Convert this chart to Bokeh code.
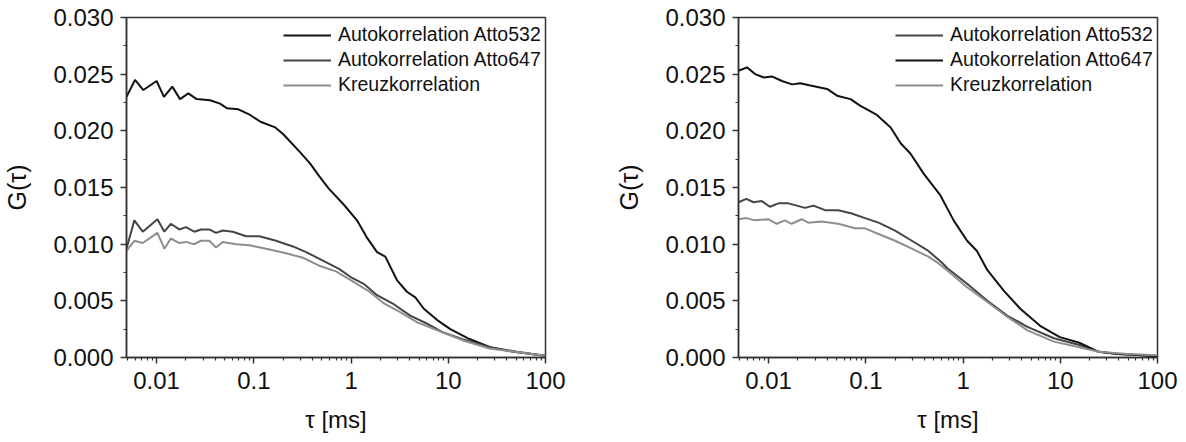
from bokeh.plotting import figure
from bokeh.layouts import row
from bokeh.models import Range1d, FixedTicker, Legend, LegendItem, PrintfTickFormatter
from bokeh.embed import file_html
from bokeh.resources import INLINE

# ---------------- data ----------------
x_ticks = [0.01, 0.1, 1, 10, 100]
x_tick_labels = ["0.01", "0.1", "1", "10", "100"]
y_ticks = [0.0, 0.005, 0.010, 0.015, 0.020, 0.025, 0.030]
y_tick_labels = ["0.000", "0.005", "0.010", "0.015", "0.020", "0.025", "0.030"]
series_names = ["Autokorrelation Atto532", "Autokorrelation Atto647", "Kreuzkorrelation"]

# left panel
L_tau_532 = [0.0049, 0.006, 0.0073, 0.01, 0.0119, 0.0145, 0.0174, 0.0212, 0.0258, 0.0355, 0.0449,
             0.0527, 0.0694, 0.0916, 0.117, 0.166, 0.201, 0.30, 0.38, 0.47, 0.59, 0.84, 1.15, 1.45,
             1.85, 2.25, 2.98, 3.75, 4.58, 5.6, 7.7, 10.5, 15.8, 27, 47, 90, 100]
L_G_532 = [0.0230, 0.0245, 0.0236, 0.0244, 0.0230, 0.0239, 0.0228, 0.0233, 0.0228, 0.0227, 0.0224,
           0.0220, 0.0219, 0.0214, 0.0208, 0.0203, 0.0197, 0.0181, 0.0171, 0.0160, 0.0149, 0.0135,
           0.0121, 0.0106, 0.0093, 0.0089, 0.0068, 0.0058, 0.0053, 0.0043, 0.0033, 0.0025, 0.0017,
           0.0009, 0.0005, 0.0002, 0.0002]

L_tau_647 = [0.0049, 0.0059, 0.0072, 0.0102, 0.0120, 0.0140, 0.0171, 0.0200, 0.0244, 0.0286, 0.0348,
             0.0408, 0.0479, 0.0607, 0.0834, 0.114, 0.169, 0.252, 0.345, 0.557, 0.76, 0.99, 1.35,
             1.85, 2.75, 4.06, 6.0, 8.9, 14.3, 26.5, 51, 90, 100]
L_G_647 = [0.0096, 0.0121, 0.0111, 0.0122, 0.0111, 0.0118, 0.0113, 0.0115, 0.0111, 0.0113, 0.0113,
           0.0110, 0.0112, 0.0111, 0.0107, 0.0107, 0.0103, 0.0098, 0.0093, 0.0084, 0.0078, 0.0071,
           0.0065, 0.0055, 0.0047, 0.0037, 0.0030, 0.0022, 0.0016, 0.0009, 0.0005, 0.0002, 0.0002]

L_tau_x = [0.0049, 0.0059, 0.0072, 0.0102, 0.0120, 0.0140, 0.0171, 0.0200, 0.0244, 0.0286, 0.0348,
           0.0408, 0.0479, 0.0657, 0.090, 0.134, 0.215, 0.32, 0.47, 0.70, 1.05, 1.55, 2.15, 3.2,
           4.8, 7.7, 14.3, 26.5, 90, 100]
L_G_x = [0.0094, 0.0103, 0.0101, 0.0110, 0.0096, 0.0105, 0.0101, 0.0102, 0.0100, 0.0103, 0.0103,
         0.0097, 0.0102, 0.0100, 0.0099, 0.0096, 0.0092, 0.0088, 0.0081, 0.0076, 0.0067, 0.0058,
         0.0048, 0.0040, 0.0031, 0.0024, 0.0015, 0.0008, 0.0002, 0.0002]

# right panel
R_tau_532 = [0.0049, 0.0059, 0.0070, 0.0085, 0.0103, 0.0126, 0.0160, 0.0237, 0.0289, 0.038, 0.052,
             0.0716, 0.098, 0.135, 0.20, 0.297, 0.44, 0.60, 0.685, 1.10, 1.78, 2.84, 4.6, 8.6, 15.7,
             24.8, 39.3, 100]
R_G_532 = [0.0137, 0.0140, 0.0137, 0.0138, 0.0133, 0.0136, 0.0136, 0.0132, 0.0134, 0.0130, 0.0130,
           0.0127, 0.0123, 0.0119, 0.0112, 0.0103, 0.0094, 0.0084, 0.0079, 0.0065, 0.0050, 0.0037,
           0.0027, 0.0017, 0.0011, 0.0005, 0.0003, 0.0001]

R_tau_647 = [0.0049, 0.006, 0.0073, 0.0089, 0.0108, 0.0137, 0.0174, 0.0212, 0.0269, 0.0399, 0.0506,
             0.0695, 0.088, 0.13, 0.18, 0.228, 0.287, 0.395, 0.585, 0.80, 1.10, 1.39, 1.78, 2.62,
             3.88, 6.2, 9.9, 15.7, 24.8, 39.3, 72, 100]
R_G_647 = [0.0253, 0.0256, 0.0250, 0.0247, 0.0248, 0.0244, 0.0241, 0.0242, 0.0240, 0.0237, 0.0231,
           0.0228, 0.0222, 0.0214, 0.0203, 0.0189, 0.0180, 0.0162, 0.0143, 0.0121, 0.0103, 0.0094,
           0.0077, 0.0059, 0.0043, 0.0028, 0.0018, 0.0013, 0.0005, 0.0003, 0.0002, 0.0001]

R_tau_x = [0.0049, 0.0059, 0.0072, 0.0099, 0.0121, 0.0147, 0.0172, 0.0219, 0.0256, 0.035, 0.052,
           0.0774, 0.098, 0.135, 0.20, 0.297, 0.44, 0.56, 0.685, 1.10, 1.78, 2.84, 4.6, 8.6, 15.7,
           24.8, 49, 100]
R_G_x = [0.0122, 0.0123, 0.0121, 0.0122, 0.0118, 0.0121, 0.0118, 0.0122, 0.0119, 0.0120, 0.0118,
         0.0114, 0.0114, 0.0109, 0.0103, 0.0096, 0.0089, 0.0083, 0.0077, 0.0062, 0.0049, 0.0036,
         0.0024, 0.0014, 0.0009, 0.0005, 0.0003, 0.0002]

FONT = "Liberation Sans"
BLACK = "#111111"
DARK = "#454545"
LIGHT = "#8e8e8e"


def make_fig(width, border_left, border_right, curves):
    p = figure(width=width, height=442, x_axis_type="log",
               x_range=Range1d(0.0049, 100), y_range=Range1d(0, 0.030),
               output_backend="svg", toolbar_location=None,
               min_border_left=border_left, min_border_right=border_right,
               min_border_top=17, min_border_bottom=85)
    p.grid.visible = False
    p.background_fill_color = "white"
    p.border_fill_color = "white"
    p.outline_line_color = "#333333"
    p.outline_line_width = 1.5

    minor_x = [m * 10.0 ** e for e in range(-3, 2) for m in range(2, 10)]
    p.xaxis.ticker = FixedTicker(ticks=x_ticks, minor_ticks=minor_x)
    p.xaxis.formatter = PrintfTickFormatter(format="%g")
    p.xaxis.major_label_overrides = {t: lab for t, lab in zip(x_ticks, x_tick_labels)}
    minor_y = [0.0025 + 0.005 * i for i in range(6)]
    p.yaxis.ticker = FixedTicker(ticks=y_ticks, minor_ticks=minor_y)
    p.yaxis.formatter = PrintfTickFormatter(format="%.3f")
    p.yaxis.major_label_overrides = {t: lab for t, lab in zip(y_ticks, y_tick_labels)}

    for ax in (p.xaxis[0], p.yaxis[0]):
        ax.axis_line_color = "#333333"
        ax.axis_line_width = 1.5
        ax.major_tick_line_color = "#333333"
        ax.minor_tick_line_color = "#333333"
        ax.major_tick_line_width = 1.5
        ax.minor_tick_line_width = 1.2
        ax.major_tick_out = 6
        ax.major_tick_in = 0
        ax.minor_tick_out = 3
        ax.minor_tick_in = 0
        ax.major_label_text_font = FONT
        ax.major_label_text_font_size = "24px"
        ax.major_label_text_color = "#111111"
        ax.axis_label_text_font = FONT
        ax.axis_label_text_font_size = "24px"
        ax.axis_label_text_font_style = "normal"
        ax.axis_label_text_color = "#111111"
    p.yaxis.axis_label_text_font_size = "25px"
    p.xaxis.axis_label = "τ [ms]"
    p.yaxis.axis_label = "G(τ)"
    p.xaxis.major_label_standoff = 8
    p.yaxis.major_label_standoff = 7
    p.xaxis.axis_label_standoff = 14
    p.yaxis.axis_label_standoff = 19

    items = []
    for name, tau, g, color, lw in curves:
        r = p.line(tau, g, line_color=color, line_width=lw)
        items.append(LegendItem(label=name, renderers=[r]))
    leg = Legend(items=items, location=(157, 261), border_line_color=None,
                 background_fill_alpha=0, label_text_font=FONT, label_text_font_size="19.5px",
                 label_text_color="#111111", glyph_width=48, glyph_height=20,
                 label_standoff=7, spacing=2, padding=3, margin=0)
    leg.label_height = 20
    p.add_layout(leg)
    return p


p1 = make_fig(600, 126, 55, [
    (series_names[0], L_tau_532, L_G_532, BLACK, 2.0),
    (series_names[1], L_tau_647, L_G_647, DARK, 2.0),
    (series_names[2], L_tau_x, L_G_x, LIGHT, 2.0),
])
p2 = make_fig(586, 138, 29, [
    (series_names[0], R_tau_532, R_G_532, DARK, 2.0),
    (series_names[1], R_tau_647, R_G_647, BLACK, 2.0),
    (series_names[2], R_tau_x, R_G_x, LIGHT, 2.0),
])

layout = row(p1, p2)
open("out.html", "w").write(file_html(layout, INLINE))
